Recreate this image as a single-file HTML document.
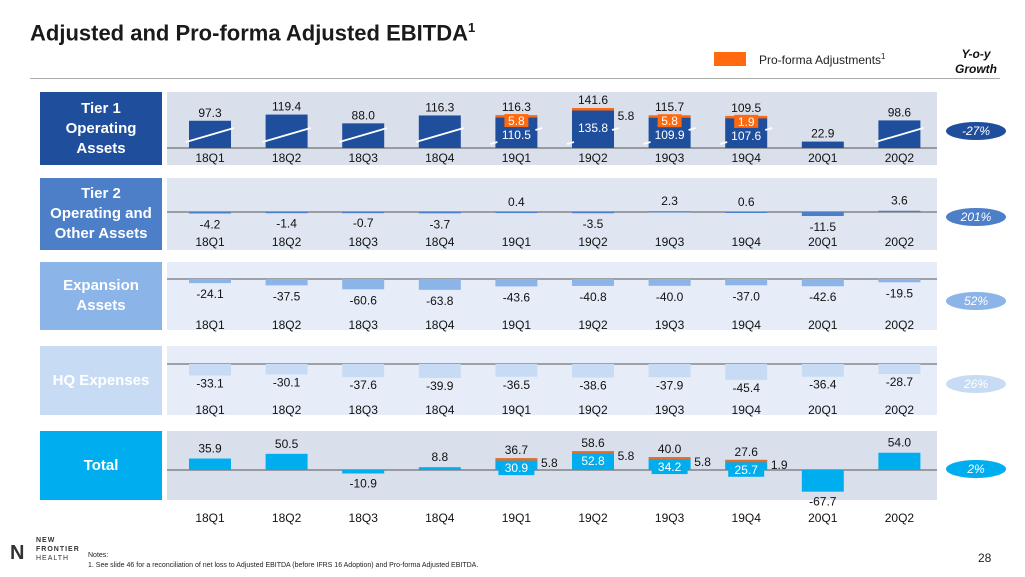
<!DOCTYPE html>
<html><head><meta charset="utf-8">
<style>
body{margin:0;background:#fff;font-family:"Liberation Sans",Arial,sans-serif;}
#wrap{position:relative;width:1025px;height:577px;overflow:hidden;}
.lbl{position:absolute;left:40px;width:122px;color:#fff;font-weight:bold;font-size:15px;display:flex;align-items:center;justify-content:center;text-align:center;line-height:20px;}
.oval{position:absolute;left:946px;width:60px;height:18px;border-radius:50%;color:#fff;font-style:italic;font-size:12px;text-align:center;line-height:18px;}
</style></head><body>
<div id="wrap">
<div style="position:absolute;left:30px;top:20px;font-size:22px;font-weight:bold;color:#1a1a1a;">Adjusted and Pro-forma Adjusted EBITDA<sup style="font-size:13px">1</sup></div>
<div style="position:absolute;left:714px;top:52px;width:32px;height:14px;background:#ff6a10;"></div>
<div style="position:absolute;left:759px;top:52px;font-size:12px;color:#222;">Pro-forma Adjustments<sup style="font-size:8px">1</sup></div>
<div style="position:absolute;left:946px;top:47px;width:60px;text-align:center;font-size:12px;font-weight:bold;font-style:italic;line-height:15px;color:#111;">Y-o-y<br>Growth</div>
<div style="position:absolute;left:30px;top:78px;width:970px;height:1px;background:#aaa;"></div>

<div class="lbl" style="top:92px;height:73px;background:#1f4e9c;">Tier 1<br>Operating<br>Assets</div>
<div class="lbl" style="top:178px;height:72px;background:#4d7fc9;">Tier 2<br>Operating and<br>Other Assets</div>
<div class="lbl" style="top:262px;height:68px;background:#8bb4e8;">Expansion<br>Assets</div>
<div class="lbl" style="top:346px;height:69px;background:#c7dcf4;">HQ Expenses</div>
<div class="lbl" style="top:431px;height:69px;background:#00aeef;">Total</div>

<div class="oval" style="top:122px;background:#1f4e9c;">-27%</div>
<div class="oval" style="top:208px;background:#4d7fc9;">201%</div>
<div class="oval" style="top:292px;background:#8bb4e8;">52%</div>
<div class="oval" style="top:375px;background:#c7dcf4;">26%</div>
<div class="oval" style="top:460px;background:#00aeef;">2%</div>

<svg id="chart" width="1025" height="577" style="position:absolute;left:0;top:0"></svg>

<div style="position:absolute;left:10px;top:543px;width:22px;height:20px;font-size:20px;line-height:20px;color:#333;font-weight:bold;">N</div>
<div style="position:absolute;left:36px;top:536px;font-size:7px;line-height:9px;color:#333;letter-spacing:1px;"><b>NEW<br>FRONTIER</b><br>HEALTH</div>
<div style="position:absolute;left:88px;top:551px;font-size:7px;line-height:10px;color:#222;">Notes:<br>1. See slide 46 for a reconciliation of net loss to Adjusted EBITDA (before IFRS 16 Adoption) and Pro-forma Adjusted EBITDA.</div>
<div style="position:absolute;left:978px;top:551px;font-size:12px;color:#222;">28</div>
</div>
<script>
const categories=["18Q1","18Q2","18Q3","18Q4","19Q1","19Q2","19Q3","19Q4","20Q1","20Q2"];
const tier1Base=[97.3,119.4,88.0,116.3,110.5,135.8,109.9,107.6,22.9,98.6];
const tier1Adj=[0,0,0,0,5.8,5.8,5.8,1.9,0,0];
const tier2=[-4.2,-1.4,-0.7,-3.7,0.4,-3.5,2.3,0.6,-11.5,3.6];
const expansion=[-24.1,-37.5,-60.6,-63.8,-43.6,-40.8,-40.0,-37.0,-42.6,-19.5];
const hq=[-33.1,-30.1,-37.6,-39.9,-36.5,-38.6,-37.9,-45.4,-36.4,-28.7];
const totalBase=[35.9,50.5,-10.9,8.8,30.9,52.8,34.2,25.7,-67.7,54.0];
const totalAdj=[0,0,0,0,5.8,5.8,5.8,1.9,0,0];

const svg=document.getElementById('chart');
const NS='http://www.w3.org/2000/svg';
function el(tag,attrs,parent){const e=document.createElementNS(NS,tag);for(const k in attrs)e.setAttribute(k,attrs[k]);(parent||svg).appendChild(e);return e;}
function txt(x,y,s,fill,size,name){const t=el('text',{x:x,y:y,'text-anchor':'middle','font-size':size||12,fill:fill||'#111','font-family':'Liberation Sans, Arial, sans-serif'});t.textContent=s;


return t;}
const xC=i=>210+i*76.6;
const BW=42;
function panel(y,h,fill,name){const r=el('rect',{x:167,y:y,width:770,height:h,fill:fill});

}
function axisLine(y){const l=el('line',{x1:167,x2:937,y1:y,y2:y,stroke:'#555','stroke-width':1});

}
function catLabels(y){categories.forEach((c,i)=>txt(xC(i),y,c,'#111',12,'category-label'));}
function bar(i,y0,v,scale,color,name){const h=Math.abs(v)*scale;const y=v>=0?y0-h:y0;const r=el('rect',{x:xC(i)-BW/2,y:y,width:BW,height:Math.max(h,1.2),fill:color});


return {top:y,bottom:y+h};}

// Panel 1: Tier 1
panel(92,73,'#d9e0ec','tier1-panel');
const b1=148,s1=0.28;
axisLine(b1);
tier1Base.forEach((v,i)=>{
  const b=bar(i,b1,v,s1,'#1f4e9c','tier1-bar');
  const a=tier1Adj[i];
  let top=b.top;
  if(a>0){const r=el('rect',{x:xC(i)-BW/2,y:b.top-2,width:BW,height:2.5,fill:'#ff6a10'});
    
    
    top=b.top-2;}
  if(i!==8 && a===0){const l=el('line',{x1:xC(i)-24,y1:b1-6,x2:xC(i)+24,y2:b1-20,stroke:'#fff','stroke-width':1.8});
    
    }
  if(i!==8 && a>0){
    const l1=el('line',{x1:xC(i)-26,y1:b1-4,x2:xC(i)-19,y2:b1-6,stroke:'#fff','stroke-width':1.8});
    
    
    const l2=el('line',{x1:xC(i)+19,y1:b1-18,x2:xC(i)+26,y2:b1-20,stroke:'#fff','stroke-width':1.8});
    
    }
  txt(xC(i),top-4,(v+a).toFixed(1),'#111',12,'tier1-total-label');
  if(a>0){
    txt(xC(i),b.top+22,v.toFixed(1),'#fff',12,'tier1-base-label');
    if(i===5){txt(xC(i)+33,b.top+10,a.toFixed(1),'#111',12,'tier1-adj-label');}
    else{const r=el('rect',{x:xC(i)-12,y:b.top-3,width:24,height:13,fill:'#ff6a10'});
      
      
      txt(xC(i),b.top+8,a.toFixed(1),'#fff',12,'tier1-adj-label');}
  }
});
catLabels(162);

// Panel 2: Tier 2
panel(178,72,'#dfe6f1','tier2-panel');
const b2=212,s2=0.35;
axisLine(b2);
tier2.forEach((v,i)=>{const b=bar(i,b2,v,s2,'#4d7fc9','tier2-bar');
  txt(xC(i),v>=0?b.top-6:b.bottom+15,v.toFixed(1),'#111',12,'tier2-value-label');});
catLabels(246);

// Panel 3: Expansion
panel(262,68,'#e6edf8','expansion-panel');
const b3=279,s3=0.17;
axisLine(b3);
expansion.forEach((v,i)=>{const b=bar(i,b3,v,s3,'#8bb4e8','expansion-bar');
  txt(xC(i),b.bottom+15,v.toFixed(1),'#111',12,'expansion-value-label');});
catLabels(329);

// Panel 4: HQ
panel(346,69,'#e6edf8','hq-panel');
const b4=364,s4=0.35;
axisLine(b4);
hq.forEach((v,i)=>{const b=bar(i,b4,v,s4,'#c7dcf4','hq-bar');
  txt(xC(i),b.bottom+12,v.toFixed(1),'#111',12,'hq-value-label');});
catLabels(414);

// Panel 5: Total
panel(431,69,'#d9e0ec','total-panel');
const b5=470,s5=0.32;
axisLine(b5);
totalBase.forEach((v,i)=>{
  const b=bar(i,b5,v,s5,'#00aeef','total-bar');
  const a=totalAdj[i];
  if(a>0){const r=el('rect',{x:xC(i)-BW/2,y:b.top-2,width:BW,height:2.5,fill:'#e36c2b'});
    
    
    const bx=el('rect',{x:xC(i)-18,y:b.top+1,width:36,height:14,fill:'#00aeef'});
    
    
    txt(xC(i),b.top-6,(v+a).toFixed(1),'#111',12,'total-sum-label');
    txt(xC(i),b.top+12,v.toFixed(1),'#fff',12,'total-base-label');
    txt(xC(i)+33,b.top+7,a.toFixed(1),'#111',12,'total-adj-label');
  } else {
    txt(xC(i),v>=0?b.top-6:b.bottom+14,v.toFixed(1),'#111',12,'total-value-label');
  }
});
catLabels(522);
</script>
</body></html>
